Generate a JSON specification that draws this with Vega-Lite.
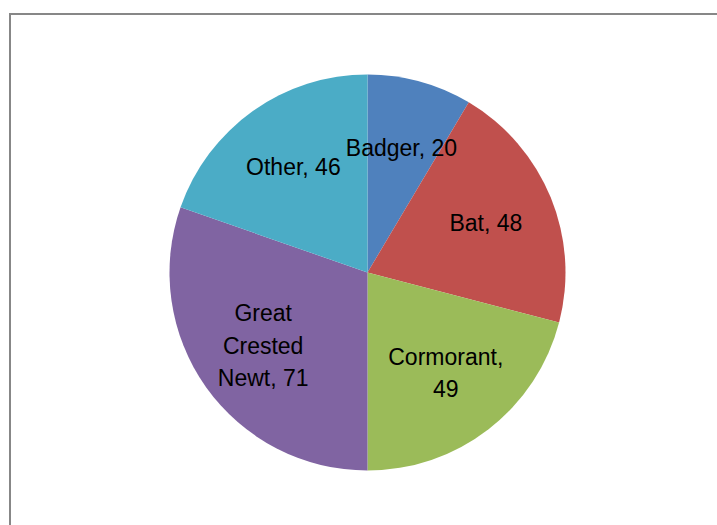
{
  "$schema": "https://vega.github.io/schema/vega-lite/v6.json",
  "autosize": "none",
  "padding": {"left": 10, "top": 14, "right": 0, "bottom": 0},
  "width": 715,
  "height": 517,
  "background": "white",
  "config": {"view": {"stroke": null}},
  "data": {
    "values": [
      {"animal": "Badger", "count": 20, "order": 1, "label": "Badger, 20"},
      {"animal": "Bat", "count": 48, "order": 2, "label": "Bat, 48"},
      {"animal": "Cormorant", "count": 49, "order": 3, "label": "Cormorant,\n49"},
      {"animal": "Great Crested Newt", "count": 71, "order": 4, "label": "Great\nCrested\nNewt, 71"},
      {"animal": "Other", "count": 46, "order": 5, "label": "Other, 46"}
    ]
  },
  "layer": [
    {
      "mark": {"type": "rect", "fill": null, "stroke": "#878787", "strokeWidth": 2},
      "encoding": {
        "x": {"value": 0},
        "x2": {"value": "width"},
        "y": {"value": 0},
        "y2": {"value": "height"}
      }
    },
    {
      "encoding": {
        "theta": {"field": "count", "type": "quantitative", "stack": true},
        "order": {"field": "order", "type": "quantitative"}
      },
      "layer": [
        {
          "mark": {"type": "arc", "outerRadius": 198, "stroke": null},
          "encoding": {
            "color": {
              "field": "animal",
              "type": "nominal",
              "sort": ["Badger", "Bat", "Cormorant", "Great Crested Newt", "Other"],
              "scale": {"range": ["#4F81BD", "#C0504D", "#9BBB59", "#8064A2", "#4BACC6"]},
              "legend": null
            }
          }
        },
        {
          "mark": {"type": "text", "radius": 128, "font": "Liberation Sans", "fontSize": 23, "color": "black", "lineBreak": "\n", "lineHeight": 32.5, "align": "center", "baseline": "middle", "dy": {"expr": "-(length(split(datum.label, '\\n')) - 1) * 16.25"}},
          "encoding": {"text": {"field": "label"}}
        }
      ]
    }
  ]
}
